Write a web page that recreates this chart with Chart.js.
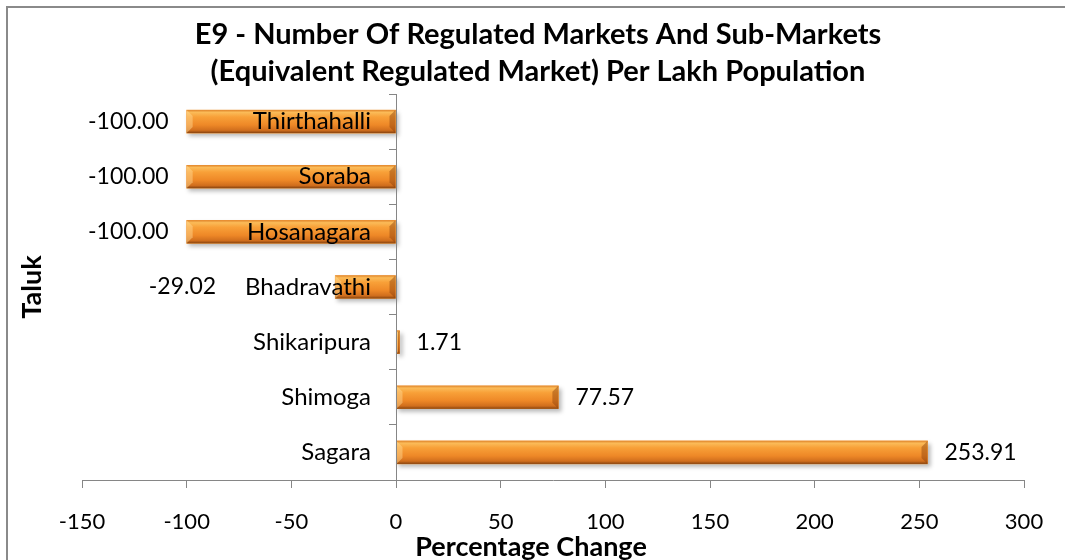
<!DOCTYPE html>
<html>
<head>
<meta charset="utf-8">
<script src="https://cdn.jsdelivr.net/npm/chart.js@4.4.1/dist/chart.umd.min.js"></script>
<style>
  body { margin: 0; background: #fff; }
  #wrap { width: 1065px; height: 560px; }
</style>
</head>
<body>
<div id="wrap"><canvas id="barchart"></canvas></div>
<script>
// data
const taluks = ['Thirthahalli', 'Soraba', 'Hosanagara', 'Bhadravathi', 'Shikaripura', 'Shimoga', 'Sagara'];
const pctChange = [-100.00, -100.00, -100.00, -29.02, 1.71, 77.57, 253.91];
const xTicks = [-150, -100, -50, 0, 50, 100, 150, 200, 250, 300];
const titleLines = ['E9 - Number Of Regulated Markets And Sub-Markets', '(Equivalent Regulated Market) Per Lakh Population'];
const xTitle = 'Percentage Change';
const yTitle = 'Taluk';

const FONT = 'Lato';
const AXIS_GREY = '#868686';
const Y_TICK_LEN = 7, Y_PAD = 18;

// frame + titles
const decor = {
    id: 'decor',
    beforeDraw(chart) {
        const c = chart.ctx;
        c.save();
        c.strokeStyle = '#8a8a8a';
        c.lineWidth = 2;
        c.strokeRect(7, 7, chart.width + 20, chart.height + 20);
        c.restore();
    },
    afterDraw(chart) {
        const c = chart.ctx;
        c.save();
        c.fillStyle = '#000';
        c.textAlign = 'center';
        c.textBaseline = 'middle';
        c.font = 'bold 29px ' + FONT;
        c.fillText(titleLines[0], 538, 35);
        c.fillText(titleLines[1], 538, 72);
        c.font = 'bold 27px ' + FONT;
        c.fillText(xTitle, 531, 547);
        c.translate(32, (chart.chartArea.top + chart.chartArea.bottom) / 2);
        c.rotate(-Math.PI / 2);
        c.fillText(yTitle, 0, 0);
        c.restore();
    }
};

// excel-ish bevelled orange bars, drawn over the library's bar rects
const barLook = {
    id: 'barLook',
    beforeDatasetsDraw(chart) {
        const c = chart.ctx;
        c.save();
        c.fillStyle = 'rgba(0,0,0,0.28)';
        c.filter = 'blur(2px)';
        chart.getDatasetMeta(0).data.forEach(bar => {
            const l = Math.min(bar.x, bar.base), r = Math.max(bar.x, bar.base);
            c.fillRect(l + 2, bar.y - bar.height / 2 + 3, r - l + 1, bar.height);
        });
        c.restore();
    },
    afterDatasetsDraw(chart) {
        const c = chart.ctx;
        c.save();
        chart.getDatasetMeta(0).data.forEach(bar => {
            const l = Math.min(bar.x, bar.base), r = Math.max(bar.x, bar.base);
            const t = bar.y - bar.height / 2, b = bar.y + bar.height / 2;
            const w = r - l;
            const g = c.createLinearGradient(0, t, 0, b);
            g.addColorStop(0, '#e0862c');
            g.addColorStop(0.1, '#fbbb58');
            g.addColorStop(0.3, '#f8a038');
            g.addColorStop(0.65, '#ee8827');
            g.addColorStop(0.88, '#d06e1d');
            g.addColorStop(1, '#87430f');
            c.fillStyle = g;
            c.fillRect(l, t, w, b - t);
            const bev = Math.min(6, w / 2);
            if (bev > 1) {
                // left end light wedge, right end dark wedge
                c.fillStyle = 'rgba(255,220,150,0.45)';
                c.beginPath();
                c.moveTo(l, t); c.lineTo(l + bev, t + bev); c.lineTo(l + bev, b - bev); c.lineTo(l, b);
                c.fill();
                c.fillStyle = 'rgba(140,65,10,0.45)';
                c.beginPath();
                c.moveTo(r, t); c.lineTo(r - bev, t + bev); c.lineTo(r - bev, b - bev); c.lineTo(r, b);
                c.fill();
            }
        });
        c.restore();
    }
};

// category names next to the zero axis, and value labels outside the bar ends
const textLabels = {
    id: 'textLabels',
    afterDraw(chart) {
        const c = chart.ctx;
        const yScale = chart.scales.y;
        const labelRight = chart.scales.x.getPixelForValue(0) - Y_TICK_LEN - Y_PAD;
        c.save();
        c.fillStyle = '#000';
        c.textBaseline = 'middle';
        c.font = '24px ' + FONT;
        c.textAlign = 'right';
        const catLeft = [];
        taluks.forEach((name, i) => {
            c.fillText(name, labelRight, yScale.getPixelForTick(i));
            catLeft.push(labelRight - c.measureText(name).width);
        });
        c.font = '23px ' + FONT;
        chart.getDatasetMeta(0).data.forEach((bar, i) => {
            const v = pctChange[i];
            const txt = v.toFixed(2);
            if (v < 0) {
                c.textAlign = 'right';
                const x = bar.x < catLeft[i] ? bar.x - 18 : catLeft[i] - 29;
                c.fillText(txt, x, bar.y);
            } else {
                c.textAlign = 'left';
                c.fillText(txt, bar.x + 17, bar.y);
            }
        });
        c.restore();
    }
};

const ctx = document.getElementById('barchart');
const myChart = new Chart(ctx, {
    type: 'bar',
    data: {
        labels: taluks,
        datasets: [{
            label: yTitle,
            data: pctChange,
            backgroundColor: '#f39a3a',
            borderWidth: 0,
            barThickness: 23
        }]
    },
    options: {
        indexAxis: 'y',
        responsive: true,
        maintainAspectRatio: false,
        animation: false,
        layout: { padding: { left: 82, right: 41, top: 94, bottom: 0 } },
        plugins: {
            legend: { display: false },
            tooltip: { enabled: false }
        },
        scales: {
            x: {
                type: 'linear',
                position: 'bottom',
                min: xTicks[0],
                max: xTicks[xTicks.length - 1],
                afterBuildTicks: scale => { scale.ticks = xTicks.map(v => ({ value: v })); },
                afterFit: scale => { scale.height = 80; },
                grid: { drawOnChartArea: false, tickLength: 8, color: AXIS_GREY },
                border: { color: AXIS_GREY, width: 1 },
                ticks: { color: '#000', font: { family: FONT, size: 22 }, padding: 21, maxRotation: 0 }
            },
            y: {
                type: 'category',
                position: { x: 0 },
                grid: { drawOnChartArea: false, tickLength: Y_TICK_LEN, color: AXIS_GREY, offset: true, z: 1 },
                border: { color: AXIS_GREY, width: 1, z: 1 },
                ticks: { display: false }
            }
        }
    },
    plugins: [decor, barLook, textLabels]
});
</script>
</body>
</html>
